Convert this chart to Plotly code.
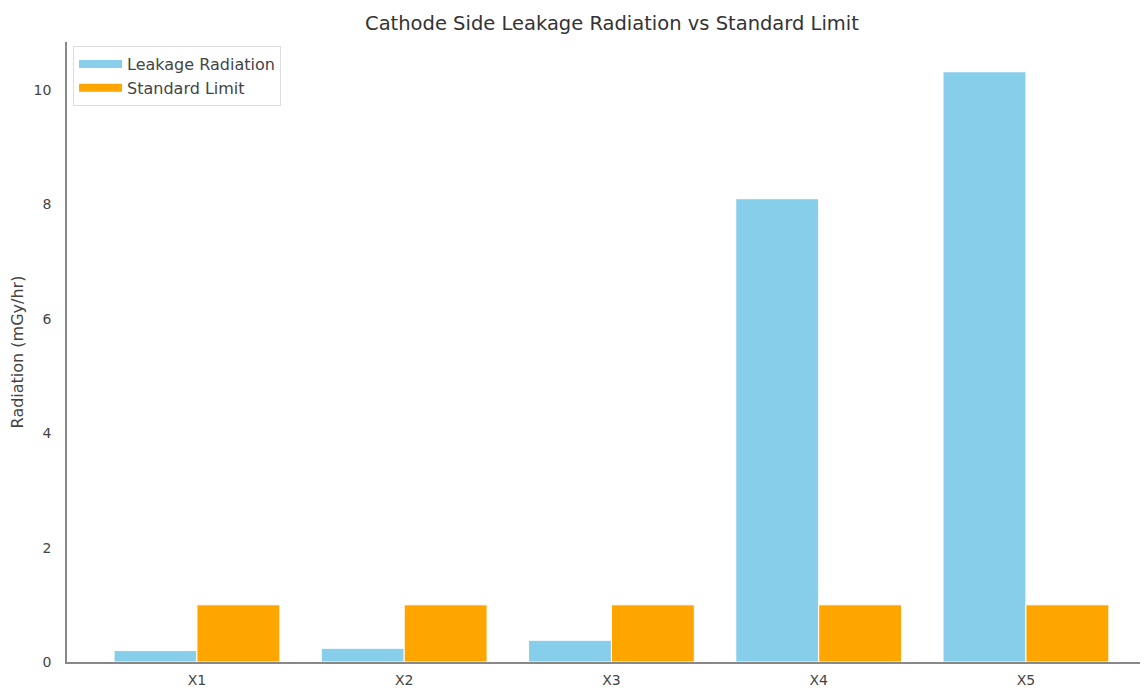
import plotly.graph_objects as go

categories = ["X1", "X2", "X3", "X4", "X5"]
leakage = [0.2, 0.24, 0.38, 8.1, 10.32]
limit = [1.0, 1.0, 1.0, 1.0, 1.0]
series_names = ["Leakage Radiation", "Standard Limit"]
series_colors = ["#87CEEB", "#FFA500"]

fig = go.Figure()
fig.add_trace(go.Bar(
    x=categories, y=leakage, name=series_names[0], showlegend=False,
    marker=dict(color=series_colors[0], line=dict(color="white", width=1)),
    width=0.4, offset=-0.4,
))
fig.add_trace(go.Bar(
    x=categories, y=limit, name=series_names[1], showlegend=False,
    marker=dict(color=series_colors[1], line=dict(color="white", width=1)),
    width=0.4, offset=0.0,
))
# legend entries drawn as wide patches (matplotlib-like)
for nm, col in zip(series_names, series_colors):
    fig.add_trace(go.Scatter(
        x=[None], y=[None], mode="lines", name=nm,
        line=dict(color=col, width=8), showlegend=True,
    ))

# page body has an 8px margin, so the figure is sized to fit the window
fig.update_layout(
    width=1140, height=680,
    margin=dict(l=59, r=0, t=34, b=26),
    barmode="overlay",
    plot_bgcolor="white", paper_bgcolor="white",
    font=dict(family="DejaVu Sans", size=14, color="#444444"),
    title=dict(text="Cathode Side Leakage Radiation vs Standard Limit",
               xref="container", x=0.5298, xanchor="center", y=0.978, yanchor="middle",
               font=dict(size=19.5, color="#333333")),
    legend=dict(x=0.0056, y=0.9935, xanchor="left", yanchor="top",
                bgcolor="rgba(255,255,255,0.8)", bordercolor="#dddddd", borderwidth=1,
                font=dict(size=16, color="#444444"), traceorder="normal",
                itemwidth=43),
    showlegend=True,
)
fig.update_xaxes(
    type="category", range=[-0.627, 4.589],
    showline=True, linecolor="#888888", linewidth=1.5,
    showgrid=False, zeroline=False, ticks="", ticklabelstandoff=4,
    automargin=False, tickfont=dict(size=14),
)
fig.update_yaxes(
    range=[0, 10.84], tickvals=[0, 2, 4, 6, 8, 10],
    showline=True, linecolor="#888888", linewidth=1.5,
    showgrid=False, zeroline=False, ticks="",
    title=dict(text="Radiation (mGy/hr)", standoff=8, font=dict(size=16, color="#444444")),
    ticklabelstandoff=11, automargin=False, tickfont=dict(size=14),
)

fig.write_html("out.html")
